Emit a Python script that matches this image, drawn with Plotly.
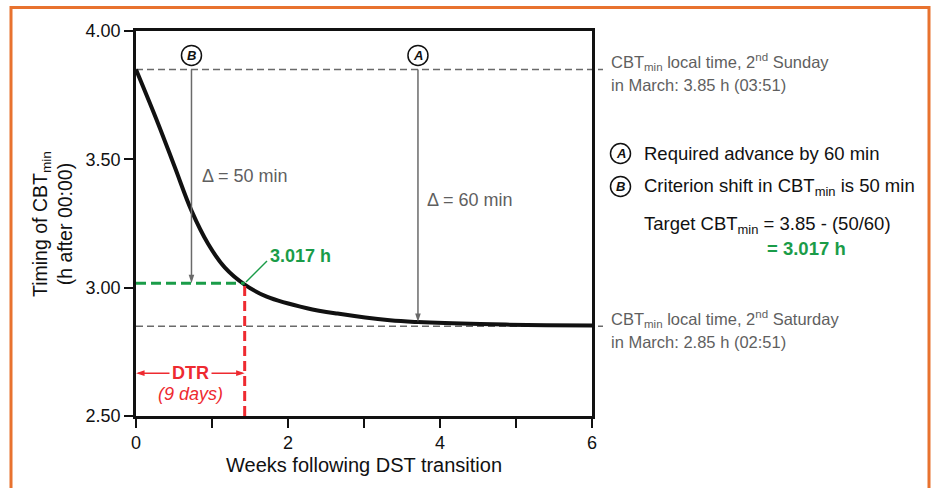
import plotly.graph_objects as go

# ---- data ----
weeks = [0, 0.29, 0.51, 0.73, 0.95, 1.17, 1.43, 1.72, 2.25, 2.65, 3.34, 3.71, 4.53, 5.40, 6.0]
cbt = [3.85, 3.64, 3.47, 3.30, 3.17, 3.078, 3.012, 2.965, 2.920, 2.899, 2.873, 2.866, 2.858, 2.854, 2.853]

cbt_sunday = 3.85
cbt_saturday = 2.85
target_cbt = 3.017
dtr_week = 1.43
arrow_b_week = 0.73
arrow_a_week = 3.71
arrow_a_end = 2.866
marker_level = 3.905
dtr_level = 2.667
dtr_label_level = 2.585

x_tickvals = [0, 2, 4, 6]
x_ticktext = ["0", "2", "4", "6"]
y_tickvals = [2.5, 3.0, 3.5, 4.0]
y_ticktext = ["2.50", "3.00", "3.50", "4.00"]

# ---- layout helpers (pixel -> paper) ----
W, H = 933, 488
ML, MR, MT, MB = 136, 341, 31, 72
PW, PH = W - ML - MR, H - MT - MB


def xp(px):
    return (px - ML) / PW


def yp(py):
    return (H - MB - py) / PH


FONT = "Liberation Sans, Arial, Helvetica, sans-serif"
GRAY = "#5f5f5f"
DASHGRAY = "#6a6a6a"
GREEN = "#1a9c48"
RED = "#ee2a30"
ORANGE = "#e8722f"

fig = go.Figure()

fig.add_trace(go.Scatter(
    x=weeks, y=cbt, mode="lines",
    line=dict(color="#111111", width=4, shape="spline", smoothing=1.0),
    hoverinfo="skip", showlegend=False,
))

shapes = []
# reference dashed lines (extend a little past the right axis)
for lvl in (cbt_sunday, cbt_saturday):
    shapes.append(dict(type="line", xref="paper", yref="y", x0=0, x1=xp(603), y0=lvl, y1=lvl,
                       line=dict(color=DASHGRAY, width=1.5, dash="7px,4px"), layer="below"))
# green target line
shapes.append(dict(type="line", xref="x", yref="y", x0=0, x1=dtr_week, y0=target_cbt, y1=target_cbt,
                   line=dict(color=GREEN, width=3, dash="10px,5px")))
# red DTR line
shapes.append(dict(type="line", xref="x", yref="y", x0=dtr_week, x1=dtr_week, y0=2.5, y1=target_cbt,
                   line=dict(color=RED, width=3, dash="10px,5px")))
# green leader line
shapes.append(dict(type="line", xref="paper", yref="paper", x0=xp(246), y0=yp(282), x1=xp(267), y1=yp(261),
                   line=dict(color=GREEN, width=1.5)))
# vertical gray arrow shafts
shapes.append(dict(type="line", xref="x", yref="y", x0=arrow_b_week, x1=arrow_b_week,
                   y0=cbt_sunday, y1=target_cbt + 0.02, line=dict(color=DASHGRAY, width=1.5)))
shapes.append(dict(type="line", xref="x", yref="y", x0=arrow_a_week, x1=arrow_a_week,
                   y0=cbt_sunday, y1=arrow_a_end + 0.02, line=dict(color=DASHGRAY, width=1.5)))
# DTR arrow shaft
shapes.append(dict(type="line", xref="x", yref="y", x0=0.03, x1=dtr_week - 0.03,
                   y0=dtr_level, y1=dtr_level, line=dict(color=RED, width=1.5)))
# circles in plot
for wk in (arrow_b_week, arrow_a_week):
    shapes.append(dict(type="circle", xref="x", yref="y", xsizemode="pixel", ysizemode="pixel",
                       xanchor=wk, yanchor=marker_level, x0=-10, x1=10, y0=-10, y1=10,
                       line=dict(color="#111111", width=1.5), fillcolor="white"))
# circles in key
for py in (153.5, 186.5):
    shapes.append(dict(type="circle", xref="paper", yref="paper", xsizemode="pixel", ysizemode="pixel",
                       xanchor=xp(620.5), yanchor=yp(py), x0=-10, x1=10, y0=-10, y1=10,
                       line=dict(color="#111111", width=1.5), fillcolor="white"))
# orange frame
shapes.append(dict(type="rect", xref="paper", yref="paper", x0=xp(11), x1=xp(929), y0=yp(500), y1=yp(7.5),
                   line=dict(color=ORANGE, width=3)))

# arrowheads (tip at the marker position)
fig.add_trace(go.Scatter(
    x=[arrow_b_week, arrow_a_week], y=[target_cbt, arrow_a_end], mode="markers",
    marker=dict(symbol="arrow", angle=180, size=9, color=DASHGRAY, line=dict(width=0)),
    hoverinfo="skip", showlegend=False, cliponaxis=False,
))
fig.add_trace(go.Scatter(
    x=[0.0, dtr_week], y=[dtr_level, dtr_level], mode="markers",
    marker=dict(symbol="arrow", angle=[-90, 90], size=9, color=RED, line=dict(width=0)),
    hoverinfo="skip", showlegend=False, cliponaxis=False,
))

ann = []


def text(x, y, s, size, color="#111111", xanchor="left", xref="paper", yref="paper", **kw):
    ann.append(dict(x=x, y=y, xref=xref, yref=yref, text=s, showarrow=False, xanchor=xanchor,
                    yanchor="middle", font=dict(family=FONT, size=size, color=color), **kw))


# circle letters
text(arrow_b_week, marker_level, "<b><i>B</i></b>", 13, xanchor="center", xref="x", yref="y")
text(arrow_a_week, marker_level, "<b><i>A</i></b>", 13, xanchor="center", xref="x", yref="y")
text(xp(620.5), yp(153.5), "<b><i>A</i></b>", 13, xanchor="center")
text(xp(620.5), yp(186.5), "<b><i>B</i></b>", 13, xanchor="center")

text(xp(200), yp(176), "Δ = 50 min", 18, GRAY)
text(xp(425), yp(200), "Δ = 60 min", 18, GRAY)
text(xp(268), yp(256), "<b>3.017 h</b>", 18, GREEN)

text(0.715, dtr_level, "<b>DTR</b>", 18, RED, xanchor="center", xref="x", yref="y",
     bgcolor="white", borderpad=2)
text(0.715, dtr_label_level, "<i>(9 days)</i>", 18, RED, xanchor="center", xref="x", yref="y")

# right-hand notes
text(xp(609), yp(62), "CBT<sub>min</sub> local time, 2<sup>nd</sup> Sunday", 16.5, GRAY)
text(xp(609), yp(85), "in March: 3.85 h (03:51)", 16.5, GRAY)
text(xp(609), yp(318.5), "CBT<sub>min</sub> local time, 2<sup>nd</sup> Saturday", 16.5, GRAY)
text(xp(609), yp(342), "in March: 2.85 h (02:51)", 16.5, GRAY)
text(xp(642), yp(153), "Required advance by 60 min", 18.5, "#111111")
text(xp(642), yp(187), "Criterion shift in CBT<sub>min</sub> is 50 min", 18.5, "#111111")
text(xp(642), yp(225), "Target CBT<sub>min</sub> = 3.85 - (50/60)", 18.5, "#111111")
text(xp(765), yp(248), "<b>= 3.017 h</b>", 18.5, GREEN)

# axis titles
text(xp(364), yp(465), "Weeks following DST transition", 20, "#111111", xanchor="center")
ann.append(dict(x=xp(52), y=yp(224), xref="paper", yref="paper", showarrow=False, textangle=-90,
                text="Timing of CBT<sub>min</sub><br>(h after 00:00)", xanchor="center", yanchor="middle",
                font=dict(family=FONT, size=19.5, color="#111111")))

axis_common = dict(showgrid=False, zeroline=False, showline=True, linecolor="#111111", linewidth=2.5,
                   mirror=True, ticks="outside", ticklen=9, tickwidth=1.5, tickcolor="#111111",
                   tickfont=dict(family=FONT, size=18, color="#111111"))

fig.update_layout(
    width=W, height=H, autosize=False,
    margin=dict(l=ML, r=MR, t=MT, b=MB, pad=0),
    paper_bgcolor="white", plot_bgcolor="white",
    showlegend=False,
    shapes=shapes, annotations=ann,
    xaxis=dict(range=[0, 6], tickvals=x_tickvals, ticktext=x_ticktext,
               minor=dict(tickvals=[1, 3, 5], ticks="outside", ticklen=9, tickwidth=1.5,
                          tickcolor="#111111"),
               **axis_common),
    yaxis=dict(range=[2.5, 4.0], tickvals=y_tickvals, ticktext=y_ticktext, **axis_common),
    font=dict(family=FONT),
)

fig.write_html("out.html")
